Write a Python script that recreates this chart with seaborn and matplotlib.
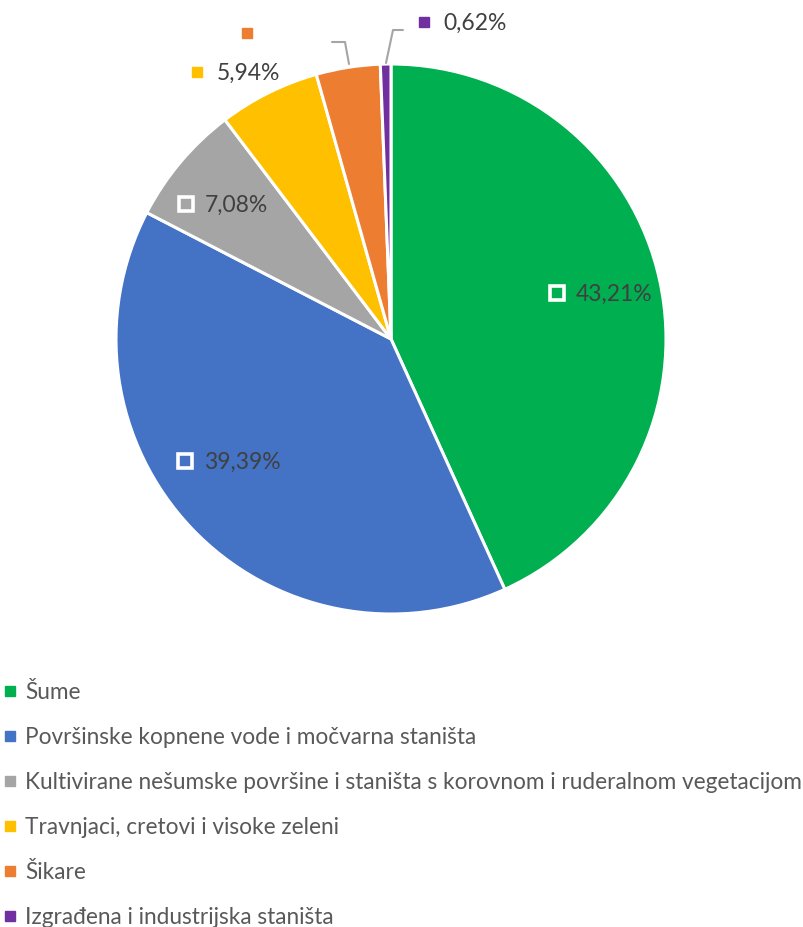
import numpy as np
import matplotlib
matplotlib.use("Agg")
import matplotlib.pyplot as plt
import seaborn as sns
from matplotlib.lines import Line2D

categories = ["Šume",
              "Površinske kopnene vode i močvarna staništa",
              "Kultivirane nešumske površine i staništa s korovnom i ruderalnom vegetacijom",
              "Travnjaci, cretovi i visoke zeleni",
              "Šikare",
              "Izgrađena i industrijska staništa"]
values = [43.21, 39.39, 7.08, 5.94, 3.76, 0.62]
labels = ["43,21%", "39,39%", "7,08%", "5,94%", "", "0,62%"]
colors = ["#00B050", "#4472C4", "#A5A5A5", "#FFC000", "#ED7D31", "#7030A0"]

sns.set_theme(style="white")
plt.rcParams['font.family'] = ['Lato', 'DejaVu Sans']

W, H = 804, 927
fig = plt.figure(figsize=(W / 100, H / 100), dpi=100)
cx, cy, R = 391, 339, 275
ax = fig.add_axes([(cx - R) / W, (H - cy - R) / H, 2 * R / W, 2 * R / H])
wedges, _ = ax.pie(values, colors=colors, startangle=90, counterclock=False,
                   radius=1.0, wedgeprops=dict(edgecolor="white", linewidth=2.2))
ax.set_xlim(-1, 1)
ax.set_ylim(-1, 1)
ax.set_aspect("equal")
ax.axis("off")

txtcol = "#404040"
fs = 16.5

def px(x, y):
    # figure pixel -> data coords
    return (x - cx) / R, (cy - y) / R

# label layout: (marker x, marker y, text left x) in figure pixels
label_pos = {0: (557, 293, 576), 1: (185, 461, 204), 2: (186, 204, 205),
             3: (197, 72, 217), 4: (247, 33, 262), 5: (424, 22, 443)}
for i, (mx, my, tx) in label_pos.items():
    inside = i < 3
    if inside:
        ax.plot(*px(mx, my), marker="s", markersize=10,
                markerfacecolor=colors[i], markeredgecolor="white",
                markeredgewidth=2.6, clip_on=False)
    else:
        ax.plot(*px(mx, my), marker="s", markersize=7, color=colors[i], clip_on=False)
    if labels[i]:
        ax.text(*px(tx, my + 1), labels[i], ha="left", va="center",
                fontsize=fs, color=txtcol, clip_on=False)

# leader lines
lc = "#A5A5A5"
for pts in ([(332, 42), (345, 42), (349, 64)], [(403, 30), (393, 30), (386, 63)]):
    xs, ys = zip(*[px(*p) for p in pts])
    ax.plot(xs, ys, color=lc, linewidth=1.5, clip_on=False)

handles = [Line2D([0], [0], marker="s", linestyle="", markersize=7,
                  markerfacecolor=c, markeredgecolor=c) for c in colors]
fig.legend(handles, categories, loc="upper left", bbox_to_anchor=(0.0, (H - 677) / H),
           frameon=False, fontsize=16.3, labelcolor="#595959", handlelength=0.5,
           handletextpad=0.42, labelspacing=1.06, borderaxespad=0, borderpad=0.2)

fig.savefig("out.png", dpi=100)
